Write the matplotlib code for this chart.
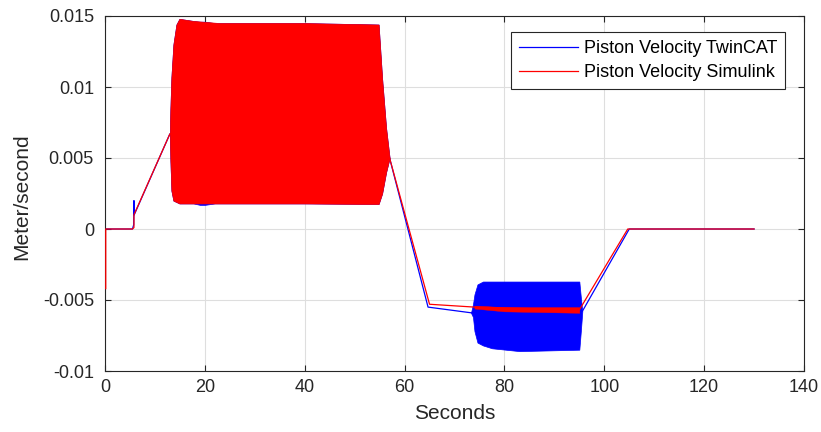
import matplotlib
matplotlib.use("Agg")
import matplotlib.pyplot as plt

# piston velocity, TwinCAT measurement (centre path)
tc_time = [0, 5.5, 5.75, 5.8, 5.85, 13.0, 57.0, 64.7, 73.3, 95.6, 105.0, 130.0]
tc_vel = [0, 0, 0.0003, 0.002, 0.001, 0.0067, 0.005, -0.0055, -0.0059, -0.0058, 0, 0]

# envelope of the TwinCAT oscillation, extension stroke
tc_band1_time = [13.0, 13.1, 13.3, 13.7, 14.3, 14.9, 17.7, 19.0, 20.0, 22.0, 23.0, 40.0, 54.8, 55.5, 56.3, 57.0]
tc_band1_hi = [0.0067, 0.0085, 0.0107, 0.0130, 0.0144, 0.0148, 0.01465, 0.0146, 0.0146, 0.0145, 0.0145, 0.0145, 0.0144, 0.0106, 0.0071, 0.005]
tc_band1_lo = [0.0067, 0.0048, 0.0027, 0.0020, 0.0019, 0.0018, 0.0018, 0.0017, 0.0017, 0.0018, 0.0018, 0.0018, 0.00176, 0.0025, 0.0040, 0.005]

# envelope of the TwinCAT oscillation, retraction stroke
tc_band2_time = [73.3, 73.7, 74.0, 74.6, 75.7, 77.5, 83.0, 95.0, 95.3, 95.6]
tc_band2_hi = [-0.0059, -0.0053, -0.0046, -0.0039, -0.0037, -0.0037, -0.0037, -0.0037, -0.0048, -0.0058]
tc_band2_lo = [-0.0059, -0.0062, -0.0072, -0.0080, -0.0082, -0.0084, -0.0086, -0.0085, -0.0072, -0.0058]

# piston velocity, Simulink model (centre path)
sim_time = [0.15, 0.15, 5.5, 5.8, 5.8, 13.0, 57.0, 65.0, 74.0, 95.0, 104.7, 130.0]
sim_vel = [-0.0042, 0, 0, 0.0001, 0.001, 0.0067, 0.005, -0.0053, -0.0055, -0.0057, 0, 0]

# envelope of the Simulink oscillation, extension stroke
sim_band1_time = [13.0, 13.1, 13.3, 13.7, 14.3, 14.9, 17.7, 23.0, 40.0, 54.8, 55.5, 56.3, 57.0]
sim_band1_hi = [0.0067, 0.0085, 0.0107, 0.0130, 0.0144, 0.0148, 0.01465, 0.0145, 0.0145, 0.0144, 0.0106, 0.0071, 0.005]
sim_band1_lo = [0.0067, 0.0048, 0.0027, 0.0020, 0.0019, 0.0018, 0.0018, 0.0018, 0.0018, 0.00176, 0.0025, 0.0040, 0.005]

# small ripple of the Simulink trace, retraction stroke
sim_band2_time = [74.0, 80.0, 95.0]
sim_band2_hi = [-0.0054, -0.0055, -0.0055]
sim_band2_lo = [-0.0056, -0.0058, -0.0059]

x_ticks = [0, 20, 40, 60, 80, 100, 120, 140]
y_ticks = [-0.01, -0.005, 0, 0.005, 0.01, 0.015]
y_ticklabels = ["-0.01", "-0.005", "0", "0.005", "0.01", "0.015"]

plt.rcParams["font.family"] = ["Liberation Sans", "DejaVu Sans"]
txt = "#262626"

fig = plt.figure(figsize=(8.21, 4.32), dpi=100)
ax = fig.add_axes([105 / 821, 61 / 432, 699 / 821, 355 / 432])

blue = (0, 0, 1)
red = (1, 0, 0)

ax.fill_between(tc_band1_time, tc_band1_lo, tc_band1_hi, color=blue, lw=0.5, zorder=2)
ax.fill_between(tc_band2_time, tc_band2_lo, tc_band2_hi, color=blue, lw=0.5, zorder=2)
ax.plot(tc_time, tc_vel, color=blue, lw=0.9, zorder=2, label="Piston Velocity TwinCAT")

ax.fill_between(sim_band1_time, sim_band1_lo, sim_band1_hi, color=red, lw=0.5, zorder=3)
ax.fill_between(sim_band2_time, sim_band2_lo, sim_band2_hi, color=red, lw=0.3, zorder=3)
ax.plot(sim_time, sim_vel, color=red, lw=0.9, zorder=3, label="Piston Velocity Simulink")

ax.set_xlim(0, 140)
ax.set_ylim(-0.01, 0.015)
ax.set_xticks(x_ticks)
ax.set_yticks(y_ticks)
ax.set_yticklabels(y_ticklabels)

ax.grid(True, color="#dedede", lw=0.8)
ax.set_axisbelow(True)
for sp in ax.spines.values():
    sp.set_color(txt)
    sp.set_linewidth(0.8)
ax.tick_params(direction="in", top=True, right=True, length=4, width=0.8,
               colors=txt, labelsize=13, pad=6)
ax.tick_params(axis="y", pad=8)

ax.set_xlabel("Seconds", fontsize=15, color=txt)
ax.set_ylabel("Meter/second", fontsize=15, color=txt)
ax.xaxis.set_label_coords(0.5, -0.093)
ax.yaxis.set_label_coords(-0.106, 0.49)

leg = ax.legend(loc="upper right", bbox_to_anchor=(0.973, 0.955), fontsize=13,
                fancybox=False, framealpha=1, edgecolor=txt, handlelength=3.3,
                handletextpad=0.3, borderpad=0.45, labelspacing=0.38,
                borderaxespad=0)
leg.get_frame().set_linewidth(0.8)

fig.savefig("out.png", dpi=100)
